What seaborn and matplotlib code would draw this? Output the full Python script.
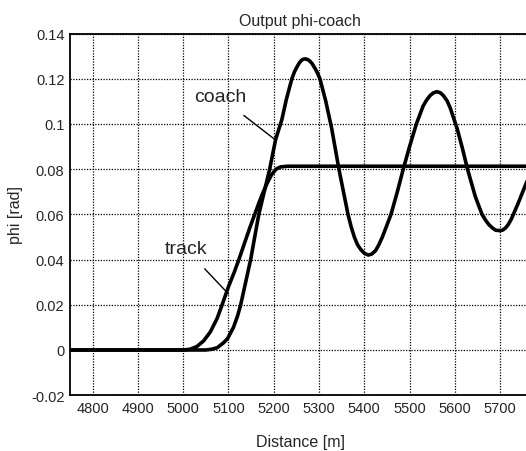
import pandas as pd
import seaborn as sns
import matplotlib.pyplot as plt

# values
track_x = [4750, 5000, 5015, 5030, 5045, 5060, 5075, 5086, 5100, 5112, 5123,
           5135, 5147, 5158, 5168, 5177, 5186, 5195, 5205, 5215, 5230, 5766]
track_phi = [0, 0, 0.0003, 0.0015, 0.004, 0.008, 0.014, 0.020, 0.028, 0.034,
             0.040, 0.047, 0.054, 0.060, 0.0655, 0.070, 0.074, 0.0775, 0.080,
             0.081, 0.0813, 0.0813]

coach_x = [4750, 5050, 5062, 5075, 5088, 5098, 5111, 5120, 5127, 5138, 5149,
           5158, 5167, 5179, 5191, 5204, 5218, 5228, 5240, 5246, 5252, 5257,
           5262, 5266, 5270, 5275, 5280, 5285, 5290, 5296, 5302, 5315, 5328,
           5344, 5355, 5364, 5371, 5378, 5385, 5392, 5400, 5409, 5417, 5425,
           5432, 5440, 5459, 5473, 5486, 5500, 5515, 5530, 5538, 5545, 5552,
           5560, 5568, 5575, 5583, 5590, 5605, 5617, 5628, 5645, 5660, 5668,
           5675, 5683, 5690, 5700, 5706, 5712, 5718, 5725, 5740, 5757, 5766]
coach_phi = [0, 0, 0.0003, 0.001, 0.003, 0.005, 0.010, 0.015, 0.020, 0.030,
             0.040, 0.050, 0.060, 0.070, 0.080, 0.093, 0.102, 0.111, 0.120,
             0.1232, 0.1255, 0.1272, 0.1283, 0.1287, 0.1288, 0.1285, 0.1278,
             0.1266, 0.1250, 0.1228, 0.120, 0.110, 0.098, 0.080, 0.069, 0.060,
             0.0545, 0.050, 0.0466, 0.0445, 0.0428, 0.042, 0.0425, 0.044,
             0.0465, 0.050, 0.060, 0.070, 0.080, 0.090, 0.100, 0.108, 0.1107,
             0.1125, 0.1137, 0.1143, 0.1138, 0.1125, 0.1102, 0.107, 0.098,
             0.089, 0.080, 0.068, 0.060, 0.0574, 0.0555, 0.054, 0.053, 0.0528,
             0.0531, 0.054, 0.0555, 0.058, 0.065, 0.0735, 0.078]

x_ticks = [4800, 4900, 5000, 5100, 5200, 5300, 5400, 5500, 5600, 5700]
y_ticks = [-0.02, 0, 0.02, 0.04, 0.06, 0.08, 0.1, 0.12, 0.14]
y_labels = ["-0.02", "0", "0.02", "0.04", "0.06", "0.08", "0.1", "0.12", "0.14"]

df = pd.concat([
    pd.DataFrame({"Distance": track_x, "phi": track_phi, "series": "track"}),
    pd.DataFrame({"Distance": coach_x, "phi": coach_phi, "series": "coach"}),
])

sns.set_style("white")
plt.rcParams['font.family'] = ['Liberation Sans', 'DejaVu Sans']

fig = plt.figure(figsize=(5.26, 4.52), dpi=100)
ax = fig.add_axes([70 / 526, 0.1235, 460 / 526, 0.80])

sns.lineplot(data=df, x="Distance", y="phi", units="series", estimator=None,
             sort=False, color="black", linewidth=2.6, ax=ax)

ax.set_xlim(4750, 5766)
ax.set_ylim(-0.02, 0.14)
ax.set_xticks(x_ticks)
ax.set_xticklabels([str(t) for t in x_ticks], fontsize=10.5)
ax.set_yticks(y_ticks)
ax.set_yticklabels(y_labels, fontsize=10.5)
ax.tick_params(direction="in", length=4, width=1, color="black", pad=4,
               top=False, right=False)
ax.grid(True, color="black", linestyle=(0, (1, 1.2)), linewidth=0.9)
for s in ax.spines.values():
    s.set_color("black")
    s.set_linewidth(1.3)

ax.set_title("Output phi-coach", fontsize=11.5, pad=6)
ax.set_xlabel("Distance [m]", fontsize=11.5, labelpad=14)
ax.set_ylabel("phi [rad]", fontsize=11.5, labelpad=6)

# labels with leader lines
ax.annotate("coach", xy=(5206, 0.0926), xytext=(5081, 0.112), fontsize=14,
            ha="center", va="center",
            arrowprops=dict(arrowstyle="-", color="black", lw=1,
                            shrinkA=8, shrinkB=0))
ax.annotate("track", xy=(5100, 0.0248), xytext=(5006, 0.0447), fontsize=14,
            ha="center", va="center",
            arrowprops=dict(arrowstyle="-", color="black", lw=1,
                            shrinkA=8, shrinkB=0))

fig.savefig("out.png", dpi=100)
